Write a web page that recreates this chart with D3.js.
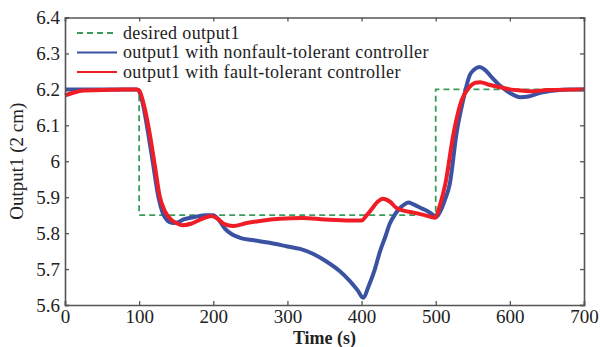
<!DOCTYPE html>
<html>
<head>
<meta charset="utf-8">
<script src="https://cdn.jsdelivr.net/npm/d3@7"></script>
<style>
  body { margin: 0; background: #fff; }
  text { font-family: "Liberation Serif", "DejaVu Serif", serif; fill: #222; }
</style>
</head>
<body>
<div id="chart"></div>
<script>
// values
var desiredT = [0, 100, 100, 500, 500, 700];
var desiredV = [6.2, 6.2, 5.85, 5.85, 6.2, 6.2];

var nonfaultT = [0, 20, 50, 80, 97, 100, 105, 112, 119, 126, 132, 138, 145, 152, 160, 175, 190, 200,
    208, 216, 225, 236, 255, 276, 300, 317, 335, 351, 370, 384, 395, 402, 410, 418, 425, 432, 438,
    445, 452, 458, 463, 470, 480, 488, 495, 501, 506, 512, 519, 528, 537, 546, 552, 559, 566, 575,
    587, 600, 614, 625, 640, 660, 680, 700];
var nonfaultV = [6.2, 6.2, 6.2, 6.2, 6.2, 6.195, 6.16, 6.08, 5.99, 5.90, 5.855, 5.835, 5.828, 5.83, 5.838, 5.845, 5.85, 5.85,
    5.835, 5.812, 5.797, 5.787, 5.78, 5.773, 5.763, 5.756, 5.742, 5.723, 5.695, 5.667, 5.64, 5.62, 5.655, 5.70, 5.75, 5.79, 5.826,
    5.852, 5.87, 5.88, 5.885, 5.88, 5.87, 5.862, 5.853, 5.845, 5.86, 5.89, 5.937, 6.077, 6.17, 6.24, 6.255, 6.262, 6.255, 6.235,
    6.21, 6.19, 6.178, 6.18, 6.19, 6.197, 6.2, 6.2];

var faultT = [0, 10, 25, 50, 80, 97, 100, 106, 114, 121, 128, 135, 142, 150, 158, 170, 185, 198,
    206, 215, 227, 245, 263, 290, 320, 350, 384, 400, 407, 414, 422, 429, 438, 447, 458, 470, 485,
    499, 506, 513, 524, 535, 545, 553, 560, 572, 587, 600, 615, 630, 650, 700];
var faultV = [6.183, 6.19, 6.197, 6.198, 6.2, 6.2, 6.197, 6.16, 6.08, 5.99, 5.90, 5.86, 5.84, 5.828, 5.822, 5.826, 5.84, 5.848,
    5.84, 5.825, 5.82, 5.828, 5.834, 5.84, 5.842, 5.838, 5.835, 5.835, 5.85, 5.868, 5.888, 5.896, 5.888, 5.87, 5.862, 5.857, 5.85,
    5.843, 5.88, 5.937, 6.077, 6.17, 6.205, 6.218, 6.22, 6.213, 6.206, 6.2, 6.197, 6.195, 6.198, 6.2];

var xTicks = [0, 100, 200, 300, 400, 500, 600, 700];
var yTicks = [5.6, 5.7, 5.8, 5.9, 6, 6.1, 6.2, 6.3, 6.4];
var legendLabels = ["desired output1", "output1 with nonfault-tolerant controller", "output1 with fault-tolerant controller"];

var W = 600, H = 347;
var margin = {top: 17.5, right: 16, bottom: 42, left: 65},
    width = W - margin.left - margin.right,
    height = H - margin.top - margin.bottom;

var x = d3.scaleLinear().domain([0, 700]).range([0, width]);
var y = d3.scaleLinear().domain([5.6, 6.4]).range([height, 0]);

var svg = d3.select("#chart").append("svg")
    .attr("width", W)
    .attr("height", H);

var g = svg.append("g")
    .attr("transform", "translate(" + margin.left + "," + margin.top + ")");

function zip(ts, vs) {
    return ts.map(function(t, i) { return {t: t, v: vs[i]}; });
}

var line = d3.line()
    .x(function(d) { return x(d.t); })
    .y(function(d) { return y(d.v); });

var smooth = d3.line()
    .x(function(d) { return x(d.t); })
    .y(function(d) { return y(d.v); })
    .curve(d3.curveMonotoneX);

var colors = ["#3a9a5c", "#3b52a3", "#ee1d26"];

g.append("path")
    .datum(zip(desiredT, desiredV))
    .attr("d", line)
    .attr("fill", "none")
    .attr("stroke", colors[0])
    .attr("stroke-width", 1.8)
    .attr("stroke-dasharray", "6,4");

g.append("path")
    .datum(zip(nonfaultT, nonfaultV))
    .attr("d", smooth)
    .attr("fill", "none")
    .attr("stroke", colors[1])
    .attr("stroke-width", 4)
    .attr("stroke-linejoin", "round");

g.append("path")
    .datum(zip(faultT, faultV))
    .attr("d", smooth)
    .attr("fill", "none")
    .attr("stroke", colors[2])
    .attr("stroke-width", 4)
    .attr("stroke-linejoin", "round");

// axes: ticks inward, box around
var axisColor = "#555";

var xAxis = d3.axisBottom(x).tickValues(xTicks).tickSize(-4).tickPadding(5).tickFormat(d3.format("d"));
var yAxis = d3.axisLeft(y).tickValues(yTicks).tickSize(-4).tickPadding(5).tickFormat(function(d) { return d3.format("")(+d.toFixed(1)); });
var xAxisTop = d3.axisTop(x).tickValues(xTicks).tickSize(-4).tickFormat("");
var yAxisRight = d3.axisRight(y).tickValues(yTicks).tickSize(-4).tickFormat("");

function styleAxis(sel) {
    sel.select(".domain").attr("stroke", axisColor).attr("stroke-width", 1.6);
    sel.selectAll(".tick line").attr("stroke", axisColor).attr("stroke-width", 1.3);
    sel.selectAll(".tick text").attr("font-size", 19).attr("fill", "#222")
        .style("font-family", "'Liberation Serif', serif");
}

g.append("g").attr("transform", "translate(0," + height + ")").call(xAxis).call(styleAxis);
g.append("g").call(yAxis).call(styleAxis);
g.append("g").call(xAxisTop).call(styleAxis);
g.append("g").attr("transform", "translate(" + width + ",0)").call(yAxisRight).call(styleAxis);

// axis titles
svg.append("text")
    .attr("x", margin.left + width / 2)
    .attr("y", 344)
    .attr("text-anchor", "middle")
    .attr("font-size", 18)
    .attr("font-weight", "bold")
    .text("Time (s)");

svg.append("text")
    .attr("transform", "translate(23," + (margin.top + height / 2) + ") rotate(-90)")
    .attr("text-anchor", "middle")
    .attr("font-size", 19)
    .text("Output1 (2 cm)");

// legend
var legend = g.append("g").attr("transform", "translate(12,15.5)");
legendLabels.forEach(function(lab, i) {
    var row = legend.append("g").attr("transform", "translate(0," + (i * 19.5) + ")");
    row.append("line")
        .attr("x1", 0).attr("x2", 40)
        .attr("y1", 0).attr("y2", 0)
        .attr("stroke", colors[i])
        .attr("stroke-width", i === 0 ? 1.8 : 2)
        .attr("stroke-dasharray", i === 0 ? "6,4" : null);
    row.append("text")
        .attr("x", 46)
        .attr("y", 5.5)
        .attr("font-size", 18)
        .attr("letter-spacing", 0.35)
        .text(lab);
});
</script>
</body>
</html>
